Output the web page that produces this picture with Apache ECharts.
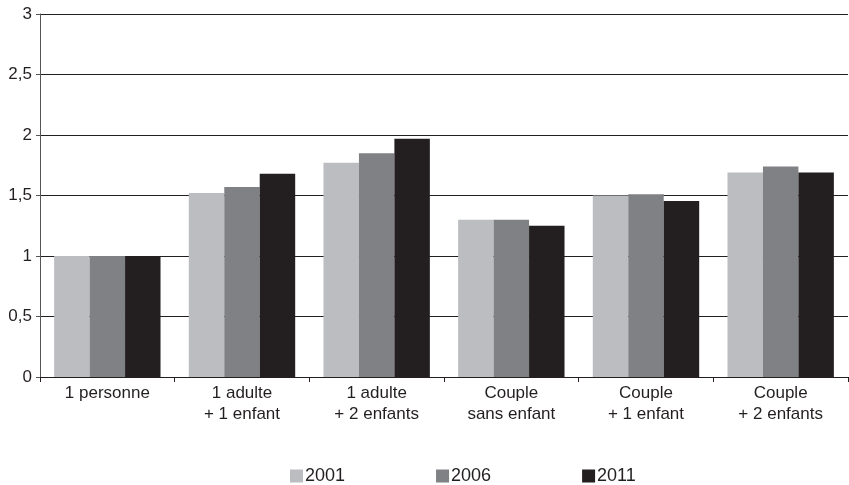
<!DOCTYPE html>
<html>
<head>
<meta charset="utf-8">
<script src="https://cdn.jsdelivr.net/npm/echarts@6/dist/echarts.min.js"></script>
<style>
html,body{margin:0;padding:0;background:#fff;}
#chart{width:849px;height:485px;}
</style>
</head>
<body>
<div id="chart"></div>
<script>
var categories = ['1 personne', '1 adulte\n+ 1 enfant', '1 adulte\n+ 2 enfants', 'Couple\nsans enfant', 'Couple\n+ 1 enfant', 'Couple\n+ 2 enfants'];
var years = ['2001', '2006', '2011'];
var values2001 = [1.00, 1.52, 1.77, 1.30, 1.50, 1.69];
var values2006 = [1.00, 1.57, 1.85, 1.30, 1.51, 1.74];
var values2011 = [1.00, 1.68, 1.97, 1.25, 1.455, 1.69];
var colors = ['#bcbdc0', '#808185', '#231f20'];

var chart = echarts.init(document.getElementById('chart'));
var font = 'Liberation Sans, Arial, Helvetica, sans-serif';
chart.setOption({
  animation: false,
  textStyle: { fontFamily: font },
  grid: { left: 40, right: 1, top: 14, bottom: 108, containLabel: false },
  legend: {
    data: years,
    left: 290,
    top: 467,
    padding: 0,
    itemWidth: 13,
    itemHeight: 13,
    itemGap: 91,
    icon: 'rect',
    textStyle: { fontFamily: font, fontSize: 18, color: '#231f20', padding: [0, 0, 0, -3] }
  },
  xAxis: {
    type: 'category',
    data: categories,
    axisLine: { lineStyle: { color: '#231f20', width: 1 } },
    axisTick: { show: true, length: 5, lineStyle: { color: '#231f20' } },
    axisLabel: { fontFamily: font, fontSize: 17, color: '#231f20', lineHeight: 21, margin: 6 }
  },
  yAxis: {
    type: 'value',
    min: 0,
    max: 3,
    interval: 0.5,
    axisLine: { show: true, lineStyle: { color: '#555', width: 1 } },
    axisTick: { show: true, length: 4, lineStyle: { color: '#555' } },
    splitLine: { show: true, lineStyle: { color: '#231f20', width: 1 } },
    axisLabel: {
      fontFamily: font, fontSize: 17, color: '#231f20', margin: 8,
      formatter: function (v) { return String(v).replace('.', ','); }
    }
  },
  series: [
    { name: years[0], type: 'bar', data: values2001, itemStyle: { color: colors[0] }, barGap: '0%', barCategoryGap: '21%' },
    { name: years[1], type: 'bar', data: values2006, itemStyle: { color: colors[1] }, barGap: '0%', barCategoryGap: '21%' },
    { name: years[2], type: 'bar', data: values2011, itemStyle: { color: colors[2] }, barGap: '0%', barCategoryGap: '21%' }
  ]
});
</script>
</body>
</html>
